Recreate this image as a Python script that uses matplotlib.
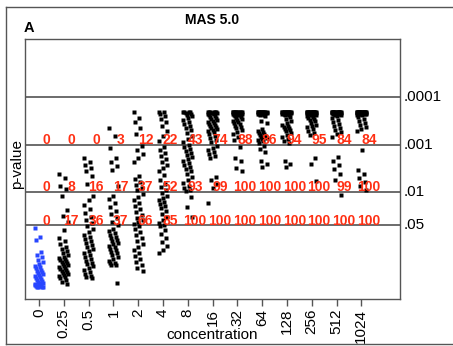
import matplotlib
matplotlib.use("Agg")
import matplotlib.pyplot as plt
from matplotlib.lines import Line2D

plt.rcParams['font.family'] = ['Liberation Sans', 'DejaVu Sans']

# concentration labels (x axis, categorical)
conc_labels = ['0', '0.25', '0.5', '1', '2', '4', '8', '16', '32', '64', '128', '256', '512', '1024']

# -log10(p) values, one list per concentration
c0 = [1.24, 1.05, 0.99, 0.74, 0.67, 0.63, 0.57, 0.53, 0.48, 0.44, 0.42, 0.40, 0.36, 0.34,
      0.32, 0.29, 0.27, 0.25, 0.23, 0.21, 0.19, 0.17, 0.15, 0.13, 0.11, 0.08, 0.06, 0.04,
      0.04, 0.02, 0.02, 0.0, 0.0, 0.0, 0.0, 0.02, 0.06, 0.08]
c025 = [2.38, 2.29, 2.13, 2.06, 1.92, 1.62, 1.49, 1.37, 1.20, 1.03, 0.97, 0.91, 0.84, 0.80,
        0.76, 0.72, 0.67, 0.63, 0.61, 0.59, 0.57, 0.55, 0.53, 0.51, 0.48, 0.46, 0.44, 0.42,
        0.40, 0.38, 0.36, 0.34, 0.32, 0.29, 0.27, 0.25, 0.23, 0.21, 0.19, 0.15, 0.11, 0.06]
c05 = [2.72, 2.63, 2.57, 2.51, 2.44, 2.34, 2.17, 1.92, 1.83, 1.73, 1.64, 1.56, 1.47, 1.41,
       1.35, 1.28, 1.22, 1.16, 1.09, 1.05, 1.01, 0.97, 0.93, 0.88, 0.84, 0.80, 0.76, 0.72,
       0.67, 0.63, 0.59, 0.55, 0.51, 0.48, 0.44, 0.40, 0.36, 0.32, 0.27, 0.23, 0.21, 0.19]
c1 = [3.35, 3.18, 2.93, 2.72, 2.63, 2.55, 2.46, 2.13, 1.92, 1.85, 1.77, 1.68, 1.60, 1.54,
      1.45, 1.37, 1.31, 1.22, 1.18, 1.14, 1.09, 1.05, 1.03, 0.99, 0.97, 0.93, 0.91, 0.86,
      0.84, 0.80, 0.78, 0.74, 0.72, 0.67, 0.63, 0.59, 0.55, 0.51, 0.51, 0.46, 0.46, 0.08]
c2 = [3.68, 3.56, 3.47, 3.35, 3.22, 2.97, 2.88, 2.80, 2.72, 2.63, 2.34, 2.27, 2.21, 2.15,
      2.08, 2.04, 1.96, 1.89, 1.83, 1.77, 1.71, 1.64, 1.58, 1.52, 1.45, 1.41, 1.37, 1.33,
      1.28, 1.22, 1.16, 1.09, 1.03, 0.97, 0.91, 0.84, 0.78, 0.72, 0.65, 0.59, 0.53, 0.46,
      0.40, 0.34]
c4 = [3.68, 3.68, 3.64, 3.60, 3.54, 3.47, 3.39, 3.28, 3.18, 3.07, 2.95, 2.88, 2.82, 2.76,
      2.69, 2.63, 2.57, 2.51, 2.44, 2.36, 2.25, 2.17, 2.11, 2.04, 1.98, 1.92, 1.87, 1.83,
      1.79, 1.75, 1.71, 1.66, 1.60, 1.54, 1.47, 1.41, 1.35, 1.31, 1.28, 1.20, 1.12, 1.03,
      0.95, 0.86, 0.78, 0.72]
c8 = [3.68] * 4 + [3.66, 3.64, 3.62, 3.60, 3.56, 3.52, 3.47, 3.43, 3.39, 3.35, 3.31, 3.24,
                   3.18, 3.12, 3.05, 2.99, 2.95, 2.91, 2.86, 2.82, 2.78, 2.74, 2.69, 2.65,
                   2.61, 2.57, 2.53, 2.48, 2.44, 2.38, 2.32, 2.25, 2.19, 2.13, 2.08, 2.04,
                   2.02, 1.89, 1.68, 1.47]
c16 = [3.68] * 6 + [3.66] * 3 + [3.64] * 2 + [3.62, 3.60, 3.58, 3.56, 3.54, 3.52, 3.49, 3.47,
                                             3.45, 3.43, 3.41, 3.39, 3.37, 3.35, 3.33, 3.31,
                                             3.28, 3.26, 3.22, 3.18, 3.14, 3.09, 3.05, 2.97,
                                             2.93, 2.88, 2.84, 2.80, 2.76, 2.72, 2.32, 2.25,
                                             2.17, 2.08, 1.77]
c32 = [3.68] * 10 + [3.66] * 5 + [3.64] * 4 + [3.62] * 3 + [3.60, 3.58, 3.56, 3.54, 3.52, 3.50,
                                                         3.47, 3.45, 3.43, 3.39, 3.37, 3.35,
                                                         3.31, 3.26, 3.22, 3.16, 3.09, 2.95,
                                                         2.72, 2.65, 2.51, 2.44]
c64 = [3.68] * 12 + [3.66] * 5 + [3.64] * 4 + [3.62] * 2 + [3.60, 3.50, 3.45, 3.33, 3.28, 3.26,
                                                         3.24, 3.22, 3.20, 3.18, 3.16, 3.14,
                                                         3.12, 3.09, 3.07, 3.03, 2.97, 2.91,
                                                         2.84, 2.65, 2.59, 2.53]
c128 = [3.68] * 12 + [3.66] * 5 + [3.64] * 4 + [3.62] * 2 + [3.58, 3.54, 3.49, 3.45, 3.41, 3.39,
                                                          3.37, 3.35, 3.33, 3.31, 3.28, 3.24,
                                                          3.20, 3.16, 3.12, 3.07, 3.03, 2.65,
                                                          2.59, 2.53]
c256 = [3.68] * 14 + [3.66] * 6 + [3.64] * 4 + [3.62] * 3 + [3.60, 3.58, 3.56, 3.54, 3.52, 3.49,
                                                          3.45, 3.41, 3.39, 3.37, 3.33, 3.28,
                                                          3.24, 3.20, 2.72, 2.59, 2.23]
c512 = [3.68] * 14 + [3.66] * 6 + [3.64] * 4 + [3.62] * 2 + [3.60, 3.56, 3.52, 3.47, 3.43, 3.39,
                                                          3.35, 3.31, 3.26, 3.22, 3.16, 2.74,
                                                          2.65, 2.57, 2.48, 2.38, 2.25, 1.94]
c1024 = [3.68] * 16 + [3.66] * 7 + [3.64] * 4 + [3.62] * 2 + [3.58, 3.54, 3.49, 3.45, 3.41, 3.37,
                                                           3.33, 3.28, 2.88, 2.46, 2.38, 2.29,
                                                           2.21, 2.13, 2.04]
columns = [c0, c025, c05, c1, c2, c4, c8, c16, c32, c64, c128, c256, c512, c1024]

# percentages printed above each threshold line
pct_001 = [0, 0, 0, 3, 12, 22, 43, 74, 88, 86, 94, 95, 84, 84]
pct_01 = [0, 8, 16, 17, 37, 52, 93, 99, 100, 100, 100, 100, 99, 100]
pct_05 = [0, 17, 36, 37, 66, 85, 100, 100, 100, 100, 100, 100, 100, 100]

thr_labels = ['.0001', '.001', '.01', '.05']
thr_y = [4.0, 3.0, 2.0, 1.301]

fig = plt.figure(figsize=(4.53, 3.46), dpi=100)
ax = fig.add_axes([25 / 453, 1 - 299 / 346, 375 / 453, 260 / 346])

red = '#ff3014'
for i, vals in enumerate(columns):
    # small fixed spread so overlapping points stay visible
    xs = [i + ((k * 5) % 9 - 4) * 0.045 for k in range(len(vals))]
    col = '#2846ff' if i == 0 else 'black'
    ax.plot(xs, vals, 's', ms=2.5, color=col, mec='none')

for y in thr_y:
    ax.axhline(y, color='#444444', lw=1.1, zorder=0)

for i in range(len(conc_labels)):
    for y, pct in zip(thr_y[1:], [pct_001, pct_01, pct_05]):
        ax.text(i + 0.3, y + 0.1, str(pct[i]), color=red, fontsize=10,
                fontweight='bold', ha='center', va='center')

for y, lab in zip(thr_y, thr_labels):
    ax.text(1.01, y, lab, transform=ax.get_yaxis_transform(), fontsize=11,
            ha='left', va='center')

ax.set_xlim(-0.565, 14.56)
ax.set_ylim(-0.25, 5.22)
ax.set_xticks(range(len(conc_labels)))
ax.set_xticklabels(conc_labels, rotation=90, fontsize=11)
ax.set_yticks([])
ax.tick_params(axis='x', length=5, width=1, color='#555555', pad=2)
for s in ax.spines.values():
    s.set_color('#555555')
    s.set_linewidth(1.0)

fig.text(212 / 453, 1 - 335 / 346, 'concentration', fontsize=11, ha='center', va='center')
fig.text(17 / 453, 1 - 164 / 346, 'p-value', fontsize=11, rotation=90,
         ha='center', va='center')
fig.text(212 / 453, 1 - 20 / 346, 'MAS 5.0', fontsize=10, fontweight='bold',
         ha='center', va='center')
fig.text(24 / 453, 1 - 28 / 346, 'A', fontsize=10.5, fontweight='bold',
         ha='left', va='center')

# outer panel frame (top, left, bottom)
fig.add_artist(Line2D([6 / 453, 1], [1 - 7 / 346, 1 - 7 / 346], color='#555555', lw=1))
fig.add_artist(Line2D([6 / 453, 6 / 453], [1 - 7 / 346, 1 - 344 / 346], color='#555555', lw=1))
fig.add_artist(Line2D([6 / 453, 1], [1 - 344 / 346, 1 - 344 / 346], color='#555555', lw=1))

fig.savefig('out.png', dpi=100)
